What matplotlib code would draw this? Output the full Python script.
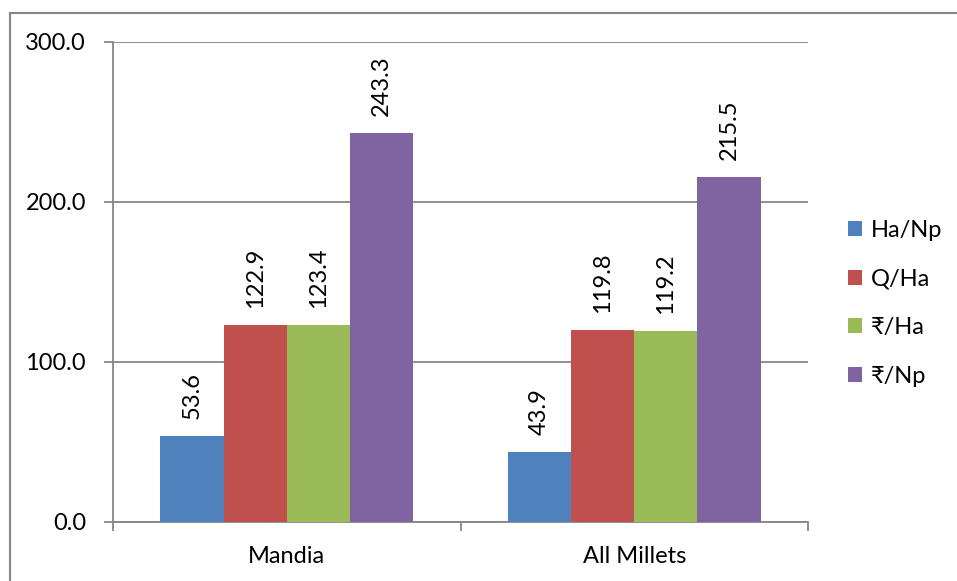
import matplotlib
matplotlib.use("Agg")
import matplotlib.pyplot as plt
from matplotlib.patches import Rectangle, Patch
import numpy as np

plt.rcParams['font.family'] = ['Lato', 'DejaVu Sans']

categories = ["Mandia", "All Millets"]
series_names = ["Ha/Np", "Q/Ha", "\u20b9/Ha", "\u20b9/Np"]
values = {
    "Ha/Np": [53.6, 43.9],
    "Q/Ha": [122.9, 119.8],
    "\u20b9/Ha": [123.4, 119.2],
    "\u20b9/Np": [243.3, 215.5],
}
colors = ["#4F81BD", "#C0504D", "#9BBB59", "#8064A2"]
yticks = [0, 100, 200, 300]

W, H = 957, 581
FS = 17
fig = plt.figure(figsize=(W / 100, H / 100), dpi=100)

# outer chart frame
fig.patches.append(Rectangle((10 / W, -0.1), 1.2, 1 - 13 / H + 0.1,
                             transform=fig.transFigure, fill=False,
                             edgecolor="#868686", linewidth=1.5))

ax = fig.add_axes([113 / W, (H - 522) / H, 695 / W, (522 - 42) / H])

n = len(series_names)
gap = 1.5
bw = 1.0 / (n + gap)
x = np.arange(len(categories))
for i, name in enumerate(series_names):
    pos = x - 0.5 + bw * (gap / 2 + i + 0.5)
    bars = ax.bar(pos, values[name], width=bw, color=colors[i],
                  edgecolor="none", label=name, zorder=3)
    for b, v in zip(bars, values[name]):
        ax.annotate(f"{v:.1f}", (b.get_x() + b.get_width() / 2, v),
                    xytext=(0, 17), textcoords="offset pixels",
                    rotation=90, ha="center", va="bottom", fontsize=FS)

ax.set_xlim(-0.5, len(categories) - 0.5)
ax.set_ylim(0, 300)
ax.set_yticks(yticks)
ax.set_yticklabels([f"{t:.1f}" for t in yticks], fontsize=FS)
ax.yaxis.grid(True, color="#868686", linewidth=1.3, zorder=0)

ax.set_xticks(x)
ax.set_xticklabels(categories, fontsize=FS)
ax.set_xticks(np.arange(-0.5, len(categories)), minor=True)
ax.tick_params(axis="x", which="major", length=0, pad=17)
ax.tick_params(axis="x", which="minor", length=6.5, width=1.3, color="#868686", direction="out")
ax.tick_params(axis="y", length=6.5, width=1.3, color="#868686", direction="out", pad=13)

for side in ["top", "right"]:
    ax.spines[side].set_visible(False)
for side in ["left", "bottom"]:
    ax.spines[side].set_color("#868686")
    ax.spines[side].set_linewidth(1.3)

handles = [Patch(facecolor=c, edgecolor="none") for c in colors]
fig.legend(handles, series_names, loc="upper left",
           bbox_to_anchor=(848 / W, 1 - 220 / H), frameon=False, fontsize=FS,
           handlelength=0.6, handleheight=0.6, handletextpad=0.35,
           labelspacing=1.17, borderpad=0, borderaxespad=0)

fig.savefig("out.png", dpi=100)
